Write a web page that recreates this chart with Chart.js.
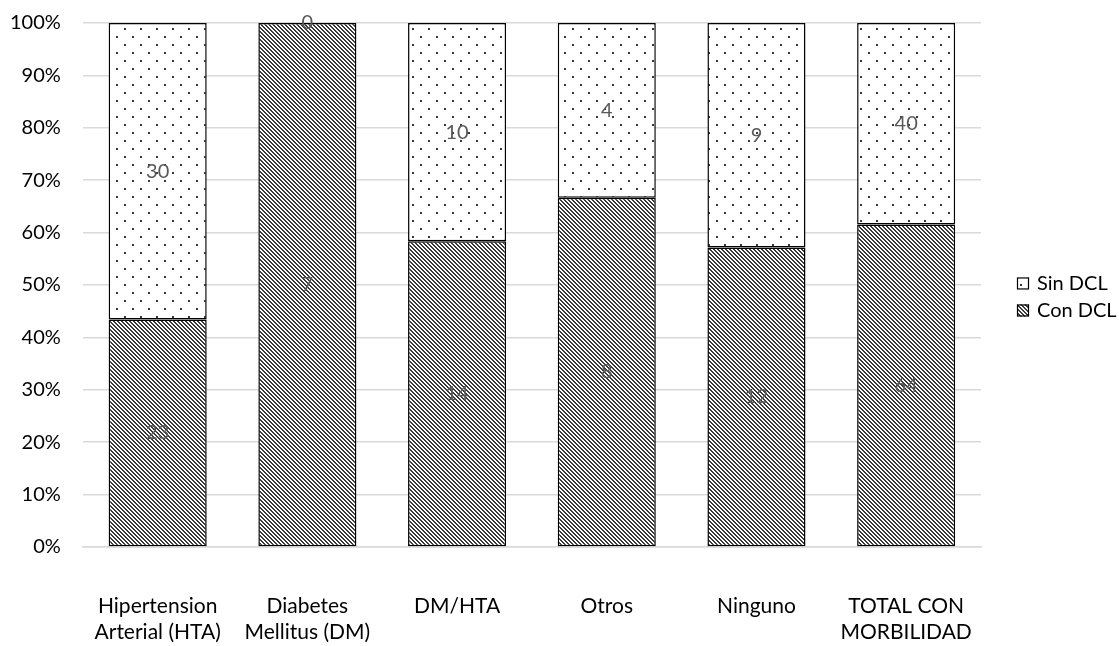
<!DOCTYPE html>
<html>
<head>
<meta charset="utf-8">
<script src="https://cdn.jsdelivr.net/npm/chart.js@4.4.1/dist/chart.umd.min.js"></script>
<style>
  html, body { margin: 0; padding: 0; background: #fff; overflow: hidden; }
  canvas { display: block; }
</style>
</head>
<body>
<canvas id="c" width="1119" height="646"></canvas>
<script>
// Morbilidad vs. deterioro cognitivo leve (conteos por grupo)
const categories = [
  ['Hipertension', 'Arterial (HTA)'],
  ['Diabetes', 'Mellitus (DM)'],
  'DM/HTA',
  'Otros',
  'Ninguno',
  ['TOTAL CON', 'MORBILIDAD']
];
const conDCL = [23, 7, 14, 8, 12, 64];
const sinDCL = [30, 0, 10, 4, 9, 40];
const seriesNames = ['Con DCL', 'Sin DCL'];
const yTicks = [0, 10, 20, 30, 40, 50, 60, 70, 80, 90, 100];

const FONT = 'Lato, "Open Sans", "Liberation Sans", sans-serif';

// share of each group, in percent
const totals = conDCL.map((v, i) => v + sinDCL[i]);
const pct = arr => arr.map((v, i) => totals[i] ? v / totals[i] * 100 : 0);

// fill patterns
function hatchPattern() {
  const t = document.createElement('canvas');
  t.width = 4; t.height = 4;
  const g = t.getContext('2d');
  g.fillStyle = '#fff'; g.fillRect(0, 0, 4, 4);
  g.fillStyle = '#3a3a3a';
  for (let i = 0; i < 4; i++) {
    g.fillRect(i, i, 1, 1);
    g.fillRect((i + 1) % 4, i, 1, 1);
  }
  return g.createPattern(t, 'repeat');
}
function dotPattern() {
  const t = document.createElement('canvas');
  t.width = 16; t.height = 16;
  const g = t.getContext('2d');
  g.fillStyle = '#fff'; g.fillRect(0, 0, 16, 16);
  g.fillStyle = '#3a3a3a';
  g.fillRect(4, 4, 2, 2);
  g.fillRect(12, 12, 2, 2);
  return g.createPattern(t, 'repeat');
}

const counts = [conDCL, sinDCL];

// value labels centred in each segment
const valueLabels = {
  id: 'valueLabels',
  afterDatasetsDraw(chart) {
    const ctx = chart.ctx;
    ctx.save();
    ctx.font = '20px ' + FONT;
    ctx.fillStyle = '#595959';
    ctx.textAlign = 'center';
    ctx.textBaseline = 'middle';
    chart.data.datasets.forEach((ds, di) => {
      const meta = chart.getDatasetMeta(di);
      meta.data.forEach((bar, i) => {
        const p = bar.getProps(['x', 'y', 'base'], true);
        ctx.fillText(String(counts[di][i]), p.x, (p.y + p.base) / 2);
      });
    });
    ctx.restore();
  }
};

// legend at the right, listed top series first
const sideLegend = {
  id: 'sideLegend',
  afterDraw(chart) {
    const ctx = chart.ctx;
    const area = chart.chartArea;
    const x = area.right + 36;
    const yMid = (area.top + area.bottom) / 2 + 12;
    const order = [1, 0];
    ctx.save();
    ctx.font = '20px ' + FONT;
    ctx.textBaseline = 'middle';
    ctx.textAlign = 'left';
    order.forEach((di, k) => {
      const ds = chart.data.datasets[di];
      const y = yMid + (k - 0.5) * 27;
      ctx.fillStyle = ds.backgroundColor;
      ctx.fillRect(x, y - 6, 12, 12);
      ctx.strokeStyle = '#000';
      ctx.lineWidth = 1.2;
      ctx.strokeRect(x + 0.5, y - 5.5, 11, 11);
      ctx.fillStyle = '#000';
      ctx.fillText(ds.label, x + 20, y);
    });
    ctx.restore();
  }
};

new Chart(document.getElementById('c'), {
  type: 'bar',
  data: {
    labels: categories,
    datasets: [
      {
        label: seriesNames[0],
        data: pct(conDCL),
        backgroundColor: hatchPattern(),
        borderColor: '#000',
        borderWidth: 1.5,
        borderSkipped: false
      },
      {
        label: seriesNames[1],
        data: pct(sinDCL),
        backgroundColor: dotPattern(),
        borderColor: '#000',
        borderWidth: 1.5,
        borderSkipped: false
      }
    ]
  },
  options: {
    responsive: false,
    animation: false,
    // tick padding is reserved twice by the layout, so pull the outer edges back in
    layout: { padding: { top: 23, right: 138, bottom: -45, left: -12 } },
    datasets: { bar: { barPercentage: 0.655, categoryPercentage: 1 } },
    plugins: { legend: { display: false }, tooltip: { enabled: false } },
    scales: {
      x: {
        stacked: true,
        grid: { display: false, drawTicks: false },
        border: { display: true, color: '#d9d9d9', width: 1.5 },
        ticks: {
          color: '#000',
          font: { family: FONT, size: 21, lineHeight: 1.24 },
          padding: 46,
          maxRotation: 0,
          autoSkip: false
        }
      },
      y: {
        stacked: true,
        min: 0,
        max: 100,
        afterBuildTicks(scale) { scale.ticks = yTicks.map(v => ({ value: v })); },
        // the top edge is set by layout padding alone
        afterFit(scale) { scale.paddingTop = 0; scale.paddingBottom = 0; },
        grid: { color: '#d9d9d9', lineWidth: 1.5, drawTicks: false },
        border: { display: false },
        ticks: {
          color: '#000',
          font: { family: FONT, size: 20 },
          padding: 22,
          callback: v => v + '%'
        }
      }
    }
  },
  plugins: [valueLabels, sideLegend]
});
</script>
</body>
</html>
